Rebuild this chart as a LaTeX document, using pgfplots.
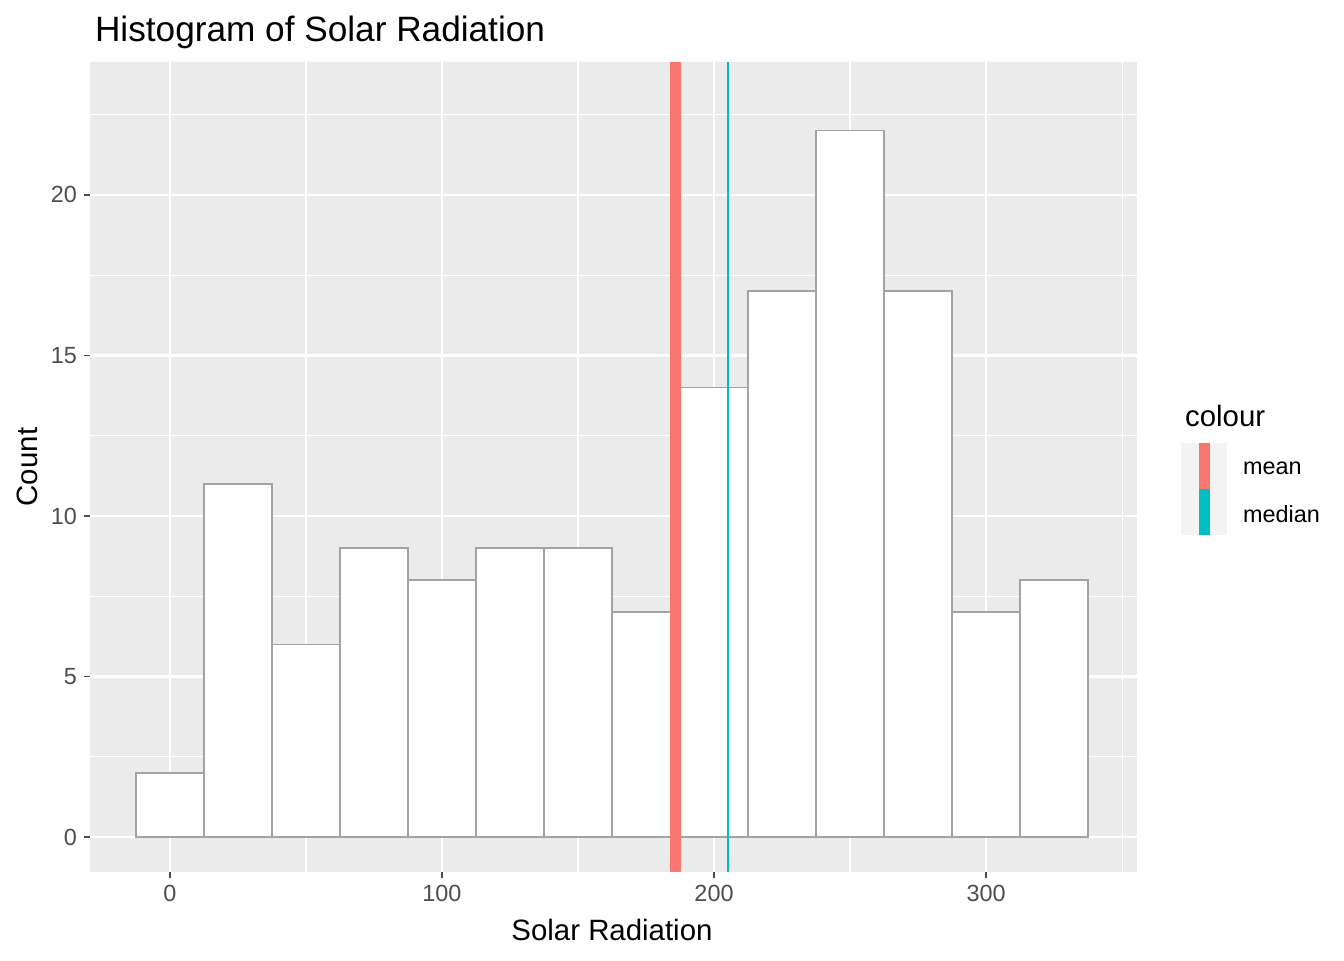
\documentclass[border=0pt]{standalone}
\usepackage{pgfplots}
\pgfplotsset{compat=1.18}
\usepackage{fontspec}
\setmainfont{Liberation Sans}
\definecolor{panel}{HTML}{EBEBEB}
\definecolor{meanc}{HTML}{F8766D}
\definecolor{medc}{HTML}{00BFC4}
\definecolor{tickc}{HTML}{4D4D4D}
\definecolor{barline}{HTML}{A3A3A3}
\begin{document}
\begin{tikzpicture}
\useasboundingbox (0,0) rectangle (672pt,480pt);
\begin{axis}[
  at={(45pt,44pt)}, anchor=south west,
  scale only axis, width=523.5pt, height=405pt,
  xmin=-29.4, xmax=355.5, ymin=-1.09, ymax=24.14,
  axis background/.style={fill=panel},
  axis line style={draw=none},
  xtick={0,100,200,300}, ytick={0,5,10,15,20},
  minor xtick={50,150,250,350}, minor ytick={2.5,7.5,12.5,17.5,22.5},
  grid=both,
  major grid style={white,line width=1.1pt},
  minor grid style={white,line width=0.55pt},
  tick align=outside, tick pos=left,
  major tick length=3pt, minor tick length=0pt,
  tick style={tickc,line width=0.8pt},
  ticklabel style={font=\fontsize{11.7}{13}\selectfont,text=tickc},
  /pgf/number format/assume math mode=true,
  clip=false,
]
\addplot[ybar, bar width=25, bar shift=0pt, fill=white, draw=barline, line width=0.8pt]
 coordinates {(0,2) (25,11) (50,6) (75,9) (100,8) (125,9) (150,9) (175,7) (200,14) (225,17) (250,22) (275,17) (300,7) (325,8)};
\addplot[meanc, line width=5.5pt] coordinates {(186,-1.09) (186,24.14)};
\addplot[medc, line width=1pt] coordinates {(205.2,-1.09) (205.2,24.14)};
\end{axis}
\node[anchor=base west, font=\fontsize{17.6}{20}\selectfont] at (44pt,459pt) {Histogram of Solar Radiation};
\node[font=\fontsize{14.7}{17}\selectfont] at (306pt,15pt) {Solar Radiation};
\node[rotate=90, font=\fontsize{14.7}{17}\selectfont] at (13.5pt,246.5pt) {Count};
\node[anchor=west, font=\fontsize{14.7}{17}\selectfont] at (589pt,272pt) {colour};
\fill[panel!60!white] (590.5pt,212.5pt) rectangle (613.5pt,258.5pt);
\fill[meanc] (599.5pt,235.5pt) rectangle (605pt,258.5pt);
\fill[medc] (599.5pt,212.5pt) rectangle (605pt,235.5pt);
\node[anchor=west, font=\fontsize{11.7}{13}\selectfont] at (618pt,246pt) {mean};
\node[anchor=west, font=\fontsize{11.7}{13}\selectfont] at (618pt,223pt) {median};
\end{tikzpicture}
\end{document}
